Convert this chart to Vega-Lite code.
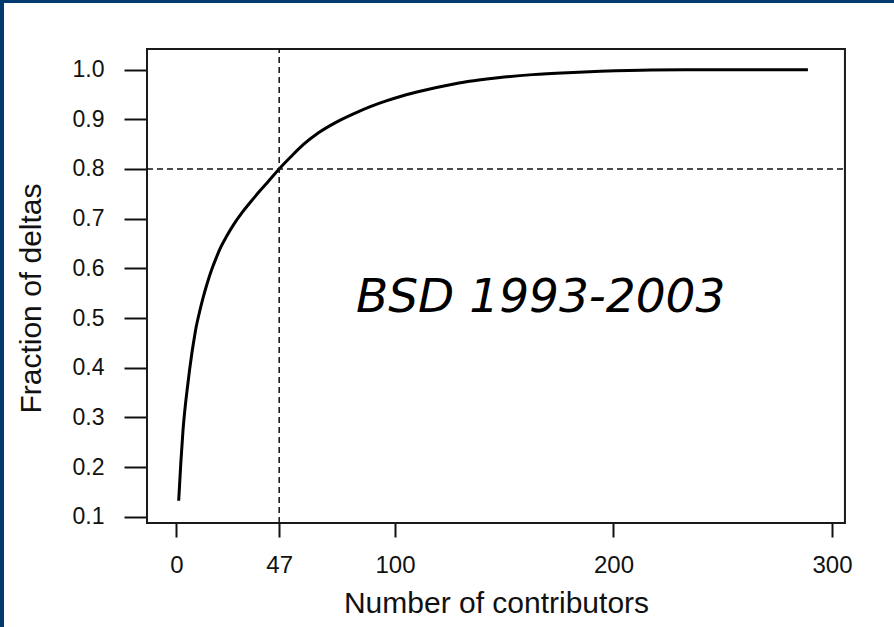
{
  "$schema": "https://vega.github.io/schema/vega-lite/v6.json",
  "width": 890,
  "height": 624,
  "autosize": {"type": "none"},
  "padding": {"left": 4, "top": 3, "right": 0, "bottom": 0},
  "background": "#003a70",
  "config": {"view": {"fill": "white", "stroke": null}, "font": "Liberation Sans"},
  "datasets": {
    "curve": [
      {"contributors": 1, "fraction": 0.132},
      {"contributors": 2, "fraction": 0.21},
      {"contributors": 3, "fraction": 0.275},
      {"contributors": 4, "fraction": 0.322},
      {"contributors": 5, "fraction": 0.36},
      {"contributors": 6, "fraction": 0.396},
      {"contributors": 7, "fraction": 0.428},
      {"contributors": 8, "fraction": 0.456},
      {"contributors": 9, "fraction": 0.482},
      {"contributors": 10, "fraction": 0.502},
      {"contributors": 12, "fraction": 0.538},
      {"contributors": 14, "fraction": 0.569},
      {"contributors": 16, "fraction": 0.596},
      {"contributors": 18, "fraction": 0.619},
      {"contributors": 20, "fraction": 0.64},
      {"contributors": 23, "fraction": 0.665},
      {"contributors": 26, "fraction": 0.687},
      {"contributors": 30, "fraction": 0.712},
      {"contributors": 34, "fraction": 0.734},
      {"contributors": 38, "fraction": 0.755},
      {"contributors": 42, "fraction": 0.775},
      {"contributors": 47, "fraction": 0.8},
      {"contributors": 52, "fraction": 0.823},
      {"contributors": 58, "fraction": 0.849},
      {"contributors": 65, "fraction": 0.873},
      {"contributors": 73, "fraction": 0.894},
      {"contributors": 81, "fraction": 0.911},
      {"contributors": 89, "fraction": 0.926},
      {"contributors": 96, "fraction": 0.937},
      {"contributors": 104, "fraction": 0.948},
      {"contributors": 112, "fraction": 0.957},
      {"contributors": 119, "fraction": 0.964},
      {"contributors": 127, "fraction": 0.971},
      {"contributors": 135, "fraction": 0.977},
      {"contributors": 142, "fraction": 0.981},
      {"contributors": 150, "fraction": 0.985},
      {"contributors": 163, "fraction": 0.99},
      {"contributors": 179, "fraction": 0.994},
      {"contributors": 194, "fraction": 0.9967},
      {"contributors": 217, "fraction": 0.9994},
      {"contributors": 240, "fraction": 1.0},
      {"contributors": 289, "fraction": 1.0}
    ]
  },
  "layer": [
    {
      "data": {"name": "curve"},
      "mark": {"type": "line", "color": "black", "strokeWidth": 3, "interpolate": "monotone", "clip": false},
      "encoding": {
        "x": {
          "field": "contributors",
          "type": "quantitative",
          "title": "Number of contributors",
          "scale": {"domain": [-78.95, 328.4], "nice": false, "zero": false},
          "axis": {
            "values": [0, 47, 100, 200, 300],
            "domain": false,
            "grid": false,
            "offset": -104,
            "tickSize": 14,
            "tickWidth": 2,
            "tickColor": "#111111",
            "labelFontSize": 24,
            "labelColor": "#111111",
            "labelPadding": 16,
            "labelFlush": false,
            "labelOverlap": false,
            "titleFontSize": 30,
            "titleFontWeight": "normal",
            "titleColor": "#111111",
            "titleX": 492,
            "titleY": 89,
            "titleAlign": "center",
            "titleBaseline": "alphabetic"
          }
        },
        "y": {
          "field": "fraction",
          "type": "quantitative",
          "title": "Fraction of deltas",
          "scale": {"domain": [-0.1221, 1.1342], "nice": false, "zero": false},
          "axis": {
            "values": [0.1, 0.2, 0.3, 0.4, 0.5, 0.6, 0.7, 0.8, 0.9, 1.0],
            "format": ".1f",
            "domain": false,
            "grid": false,
            "offset": -143,
            "tickSize": 23,
            "tickWidth": 2,
            "tickColor": "#111111",
            "labelFontSize": 23,
            "labelColor": "#111111",
            "labelPadding": 20,
            "labelFlush": false,
            "labelOverlap": false,
            "titleFontSize": 30,
            "titleFontWeight": "normal",
            "titleColor": "#111111",
            "titleAngle": 270,
            "titleX": -107,
            "titleY": 295,
            "titleAlign": "center",
            "titleBaseline": "alphabetic"
          }
        }
      }
    },
    {
      "data": {"values": [{"x0": -13.5, "x1": 305.95, "y0": 0.0873, "y1": 1.0416}]},
      "mark": {"type": "rect", "fill": null, "filled": false, "stroke": "#1a1a1a", "strokeWidth": 2},
      "encoding": {
        "x": {"field": "x0", "type": "quantitative", "title": "Number of contributors"},
        "x2": {"field": "x1"},
        "y": {"field": "y0", "type": "quantitative", "title": "Fraction of deltas"},
        "y2": {"field": "y1"}
      }
    },
    {
      "data": {"values": [{"x": 47, "y0": 0.0873, "y1": 1.0416}]},
      "mark": {"type": "rule", "color": "#111111", "strokeWidth": 1.5, "strokeDash": [6, 4]},
      "encoding": {
        "x": {"field": "x", "type": "quantitative", "title": "Number of contributors"},
        "y": {"field": "y0", "type": "quantitative", "title": "Fraction of deltas"},
        "y2": {"field": "y1"}
      }
    },
    {
      "data": {"values": [{"y": 0.8, "x0": -13.5, "x1": 305.95}]},
      "mark": {"type": "rule", "color": "#111111", "strokeWidth": 1.5, "strokeDash": [6, 4]},
      "encoding": {
        "y": {"field": "y", "type": "quantitative", "title": "Fraction of deltas"},
        "x": {"field": "x0", "type": "quantitative", "title": "Number of contributors"},
        "x2": {"field": "x1"}
      }
    },
    {
      "data": {"values": [{"x": 166.7, "y": 0.5127, "label": "BSD 1993-2003"}]},
      "mark": {"type": "text", "font": "DejaVu Sans", "fontStyle": "italic", "fontSize": 47, "align": "center", "baseline": "alphabetic", "color": "black"},
      "encoding": {
        "x": {"field": "x", "type": "quantitative", "title": "Number of contributors"},
        "y": {"field": "y", "type": "quantitative", "title": "Fraction of deltas"},
        "text": {"field": "label"}
      }
    }
  ]
}
